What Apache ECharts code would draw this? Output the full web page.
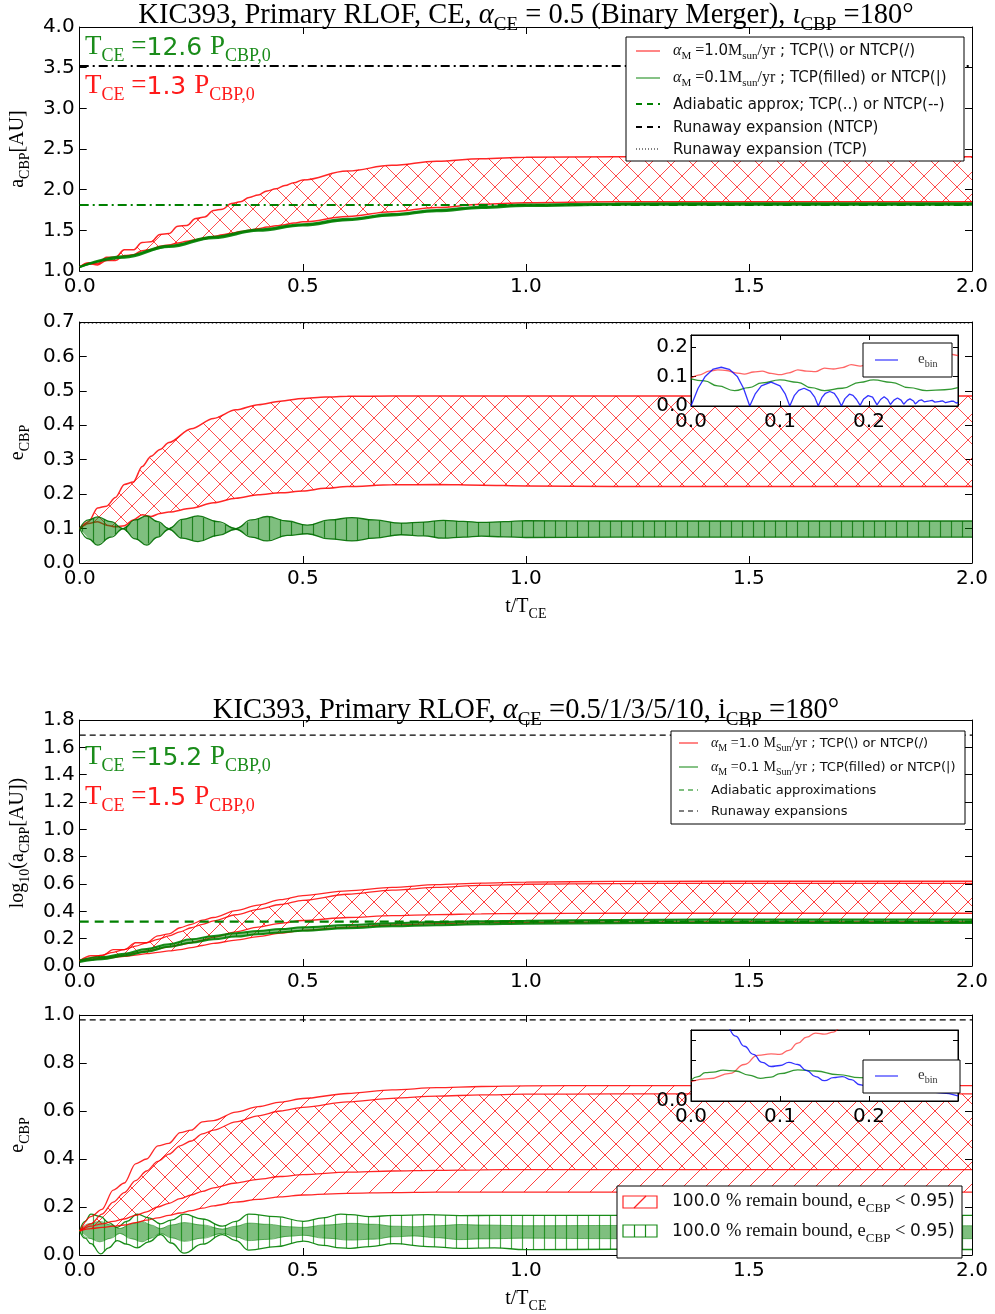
<!DOCTYPE html>
<html><head><meta charset="utf-8">
<script src="https://cdn.jsdelivr.net/npm/echarts/dist/echarts.min.js"></script>
<style>html,body{margin:0;padding:0;background:#fff}#c{width:995px;height:1314px}</style>
</head><body><div id="c"></div>
<script>
// ---------------- DATA ----------------
const xTicksMain = [0, 2, 0.5];           // min, max, interval of t/T_CE
const xTicksInset = [0, 0.3, 0.1];

// Panel 1: a_CBP [AU]
const t1 = [0,0.02,0.04,0.06,0.08,0.1,0.12,0.14,0.16,0.18,0.2,0.22,0.24,0.26,0.28,0.3,0.32,0.34,0.36,0.38,0.4,0.42,0.44,0.46,0.48,0.5,0.6,0.7,0.8,0.9,1.0,1.2,1.4,1.6,1.8,2.0];
const aRedUpper = [1.05,1.10,1.09,1.17,1.17,1.26,1.26,1.35,1.36,1.45,1.46,1.55,1.56,1.645,1.665,1.745,1.76,1.83,1.85,1.905,1.935,1.985,2.01,2.05,2.085,2.12,2.23,2.30,2.35,2.38,2.40,2.405,2.405,2.405,2.405,2.405];
const aRedLower = [1.05,1.09,1.075,1.13,1.13,1.19,1.2,1.25,1.265,1.305,1.32,1.345,1.365,1.385,1.405,1.425,1.445,1.465,1.485,1.50,1.52,1.54,1.555,1.57,1.59,1.605,1.67,1.73,1.78,1.82,1.84,1.85,1.85,1.85,1.85,1.85];
const tg1 = [0,0.1,0.2,0.3,0.4,0.5,0.6,0.7,0.8,0.9,1.0,1.2,1.5,2.0];
const aGreenUpper = [1.05,1.18,1.31,1.42,1.51,1.575,1.64,1.70,1.75,1.79,1.815,1.83,1.832,1.832];
const aGreenLower = [1.05,1.165,1.295,1.405,1.495,1.56,1.625,1.685,1.735,1.775,1.80,1.815,1.817,1.817];
const aRefLines = [3.52, 1.81];           // runaway expansion, adiabatic approx

// Panel 2: e_CBP
const t2 = [0,0.02,0.04,0.06,0.08,0.1,0.12,0.14,0.16,0.18,0.2,0.25,0.3,0.35,0.4,0.45,0.5,0.55,0.6,0.7,0.8,0.9,1.0,1.2,1.4,1.6,1.8,2.0];
const eRedUpper = [0.1,0.12,0.16,0.165,0.19,0.228,0.235,0.28,0.31,0.33,0.35,0.39,0.42,0.445,0.46,0.47,0.478,0.482,0.484,0.485,0.485,0.485,0.485,0.485,0.485,0.485,0.485,0.485];
const eRedLower = [0.1,0.115,0.12,0.11,0.105,0.108,0.125,0.14,0.135,0.144,0.148,0.159,0.175,0.188,0.198,0.204,0.209,0.217,0.222,0.227,0.228,0.226,0.224,0.222,0.222,0.222,0.222,0.222];
const tg2 = [0,0.02,0.04,0.07,0.097,0.125,0.15,0.175,0.2,0.23,0.265,0.31,0.35,0.385,0.42,0.465,0.51,0.56,0.61,0.66,0.72,0.77,0.815,0.86,0.9,0.95,1.0,1.2,1.5,2.0];
const eGreenUpper = [0.1,0.125,0.134,0.12,0.1,0.125,0.137,0.12,0.1,0.127,0.137,0.12,0.1,0.125,0.135,0.122,0.11,0.125,0.132,0.125,0.116,0.119,0.124,0.121,0.118,0.12,0.123,0.122,0.122,0.122];
const eGreenLower = [0.1,0.07,0.052,0.075,0.099,0.07,0.052,0.075,0.098,0.072,0.062,0.08,0.098,0.075,0.064,0.08,0.085,0.07,0.064,0.072,0.082,0.079,0.072,0.075,0.078,0.076,0.074,0.075,0.075,0.075];
const eRefLines = [0.698];

// Inset 1 (e vs t, zoom)
const ti1Bin = [0,0.008,0.016,0.025,0.034,0.043,0.052,0.059,0.066,0.072,0.079,0.09,0.1,0.106,0.111,0.116,0.121,0.127,0.134,0.139,0.143,0.147,0.151,0.156,0.161,0.165,0.169,0.173,0.178,0.182,0.186,0.19,0.194,0.199,0.204,0.209,0.213,0.217,0.221,0.224,0.228,0.232,0.236,0.239,0.243,0.246,0.25,0.252,0.256,0.259,0.262,0.264,0.268,0.271,0.274,0.276,0.28,0.283,0.286,0.288,0.292,0.295,0.298,0.3];
const i1Bin = [0,0.06,0.1,0.125,0.131,0.124,0.1,0.06,0,0.04,0.068,0.081,0.068,0.04,0,0.035,0.053,0.06,0.05,0.03,0,0.028,0.043,0.049,0.043,0.025,0,0.025,0.04,0.036,0.022,0.002,0.024,0.035,0.03,0.004,0.022,0.031,0.022,0.005,0.02,0.027,0.02,0.006,0.019,0.024,0.017,0.007,0.018,0.021,0.014,0.008,0.017,0.019,0.013,0.008,0.016,0.017,0.011,0.009,0.016,0.016,0.01,0.012];
const ti1Red = [0,0.01,0.02,0.03,0.04,0.05,0.06,0.07,0.08,0.09,0.1,0.11,0.12,0.13,0.14,0.15,0.16,0.17,0.18,0.19,0.2,0.21,0.22,0.23,0.24,0.25,0.26,0.27,0.28,0.29,0.3];
const i1Red = [0.094,0.105,0.118,0.122,0.12,0.112,0.108,0.115,0.118,0.11,0.106,0.112,0.122,0.118,0.116,0.128,0.125,0.13,0.14,0.135,0.142,0.152,0.147,0.155,0.163,0.158,0.165,0.172,0.168,0.175,0.17];
const ti1Green = [0,0.015,0.03,0.049,0.065,0.08,0.1,0.12,0.135,0.15,0.17,0.19,0.205,0.225,0.245,0.265,0.285,0.3];
const i1Green = [0.092,0.085,0.068,0.052,0.062,0.078,0.088,0.08,0.062,0.052,0.06,0.08,0.088,0.08,0.062,0.052,0.055,0.062];

// Panel 3: log10(a_CBP)
const t3 = [0,0.025,0.05,0.075,0.1,0.125,0.15,0.175,0.2,0.225,0.25,0.275,0.3,0.35,0.4,0.45,0.5,0.6,0.7,0.8,0.9,1.0,1.2,1.4,1.6,1.8,2.0];
const laNtcpUpper = [0.04,0.075,0.075,0.12,0.12,0.17,0.17,0.22,0.235,0.28,0.305,0.335,0.355,0.405,0.445,0.485,0.515,0.55,0.575,0.595,0.607,0.614,0.619,0.62,0.62,0.62,0.62];
const laNtcpLower = [0.04,0.045,0.055,0.062,0.07,0.08,0.09,0.1,0.11,0.12,0.135,0.15,0.165,0.19,0.215,0.24,0.26,0.285,0.3,0.31,0.316,0.319,0.321,0.322,0.322,0.322,0.322];
const laTcpUpper = [0.04,0.06,0.08,0.1,0.12,0.145,0.17,0.195,0.22,0.25,0.28,0.305,0.33,0.375,0.415,0.45,0.48,0.525,0.555,0.575,0.59,0.598,0.603,0.605,0.605,0.605,0.605];
const laTcpLower = [0.04,0.05,0.06,0.07,0.08,0.095,0.11,0.125,0.14,0.155,0.17,0.19,0.21,0.25,0.285,0.312,0.333,0.355,0.368,0.376,0.381,0.384,0.386,0.386,0.386,0.386,0.386];
const tg3 = [0,0.05,0.1,0.15,0.2,0.25,0.3,0.35,0.4,0.45,0.5,0.6,0.7,0.8,0.9,1.0,1.2,1.4,1.7,2.0];
const laGreenUpper = [0.04,0.065,0.09,0.125,0.16,0.195,0.22,0.24,0.256,0.27,0.283,0.30,0.313,0.322,0.328,0.332,0.337,0.34,0.34,0.34];
const laGreenLower = [0.03,0.05,0.075,0.105,0.14,0.17,0.195,0.215,0.232,0.246,0.258,0.277,0.29,0.299,0.305,0.309,0.313,0.315,0.315,0.315];
const laRefLines = [1.69, 0.325];

// Panel 4: e_CBP
const t4 = [0,0.025,0.05,0.075,0.1,0.125,0.15,0.175,0.2,0.225,0.25,0.275,0.3,0.35,0.4,0.45,0.5,0.6,0.7,0.8,0.9,1.0,1.2,1.4,1.6,1.8,2.0];
const e4NtcpUpper = [0.1,0.16,0.19,0.27,0.30,0.38,0.40,0.455,0.465,0.51,0.52,0.555,0.56,0.595,0.618,0.637,0.652,0.673,0.688,0.697,0.702,0.705,0.706,0.706,0.706,0.706,0.706];
const e4NtcpLower = [0.1,0.11,0.115,0.12,0.125,0.135,0.145,0.155,0.165,0.175,0.185,0.195,0.205,0.22,0.232,0.242,0.25,0.257,0.26,0.262,0.262,0.262,0.262,0.262,0.262,0.262,0.262];
const e4TcpUpper = [0.1,0.13,0.17,0.22,0.26,0.31,0.35,0.39,0.42,0.455,0.475,0.505,0.52,0.555,0.58,0.6,0.615,0.638,0.653,0.662,0.667,0.67,0.671,0.671,0.671,0.671,0.671];
const e4TcpLower = [0.1,0.12,0.13,0.14,0.15,0.165,0.18,0.2,0.215,0.235,0.25,0.265,0.28,0.3,0.315,0.327,0.335,0.345,0.35,0.353,0.355,0.356,0.356,0.356,0.356,0.356,0.356];
const tg4Out = [0,0.012,0.025,0.047,0.065,0.084,0.105,0.129,0.155,0.181,0.205,0.234,0.275,0.32,0.35,0.379,0.44,0.502,0.545,0.585,0.607,0.65,0.704,0.78,0.853,0.93,1.0,1.2,1.5,2.0];
const e4GreenOutUpper = [0.1,0.14,0.17,0.16,0.135,0.115,0.14,0.17,0.155,0.13,0.145,0.17,0.15,0.12,0.14,0.17,0.16,0.14,0.155,0.17,0.168,0.16,0.165,0.168,0.164,0.165,0.165,0.165,0.165,0.165];
const e4GreenOutLower = [0.1,0.07,0.047,0.005,0.03,0.06,0.045,0.03,0.055,0.085,0.05,0.008,0.045,0.085,0.06,0.02,0.035,0.058,0.04,0.03,0.028,0.035,0.047,0.035,0.028,0.03,0.022,0.024,0.023,0.023];
const tg4In = [0,0.02,0.045,0.07,0.09,0.115,0.14,0.16,0.181,0.205,0.234,0.275,0.32,0.35,0.379,0.42,0.47,0.5,0.55,0.607,0.66,0.704,0.75,0.8,0.853,0.9,1.0,1.2,1.5,2.0];
const e4GreenInUpper = [0.1,0.13,0.14,0.125,0.11,0.13,0.14,0.125,0.11,0.125,0.135,0.125,0.108,0.12,0.133,0.128,0.118,0.115,0.125,0.132,0.128,0.12,0.118,0.122,0.127,0.125,0.122,0.123,0.122,0.122];
const e4GreenInLower = [0.1,0.07,0.055,0.07,0.09,0.068,0.055,0.07,0.09,0.072,0.057,0.07,0.09,0.075,0.06,0.065,0.078,0.082,0.07,0.062,0.066,0.076,0.079,0.072,0.064,0.067,0.07,0.068,0.068,0.068];
const e4RefLines = [0.98];

// Inset 2
const ti2Bin = [0.04,0.05,0.06,0.07,0.08,0.09,0.1,0.11,0.12,0.13,0.14,0.15,0.16,0.17,0.18,0.19,0.2,0.22,0.24,0.26,0.28,0.3];
const i2Bin = [0.4,0.32,0.27,0.23,0.19,0.17,0.175,0.19,0.18,0.15,0.12,0.1,0.115,0.12,0.105,0.08,0.065,0.07,0.06,0.065,0.04,0.025];
const ti2Red = [0,0.02,0.044,0.06,0.075,0.09,0.1,0.11,0.12,0.13,0.14,0.15,0.16,0.17,0.18];
const i2Red = [0.095,0.11,0.136,0.18,0.225,0.232,0.23,0.25,0.285,0.315,0.335,0.33,0.34,0.37,0.4];
const ti2Green = [0,0.008,0.016,0.025,0.036,0.05,0.065,0.078,0.09,0.1,0.12,0.14,0.165,0.19,0.21,0.24,0.27,0.3];
const i2Green = [0.103,0.12,0.14,0.142,0.152,0.148,0.128,0.112,0.118,0.135,0.153,0.148,0.13,0.115,0.112,0.125,0.13,0.123];

// ---------------- STYLE ----------------
const SANS = 'DejaVu Sans', SERIF = 'Liberation Serif';
const RED = 'rgba(255,0,0,0.85)', GREEN = '#008000';

function hatch(kind, color, size, lw, bg) {
  const c = document.createElement('canvas');
  c.width = size; c.height = size;
  const g = c.getContext('2d');
  if (bg) { g.fillStyle = bg; g.fillRect(0, 0, size, size); }
  g.strokeStyle = color; g.lineWidth = lw; g.beginPath();
  if (kind.indexOf('/') >= 0) {
    g.moveTo(-2, size + 2); g.lineTo(size + 2, -2);
    g.moveTo(-2, 2); g.lineTo(2, -2);
    g.moveTo(size - 2, size + 2); g.lineTo(size + 2, size - 2);
  }
  if (kind.indexOf('\\') >= 0) {
    g.moveTo(-2, -2); g.lineTo(size + 2, size + 2);
    g.moveTo(size - 2, -2); g.lineTo(size + 2, 2);
    g.moveTo(-2, size - 2); g.lineTo(2, size + 2);
  }
  if (kind.indexOf('|') >= 0) { g.moveTo(size / 2, 0); g.lineTo(size / 2, size); }
  g.stroke();
  return { image: c, repeat: 'repeat' };
}
const patX = hatch('/\\', 'rgba(255,0,0,0.7)', 22, 1);
const patSlash = hatch('/', 'rgba(255,0,0,0.75)', 22, 1);
const patBack = hatch('\\', 'rgba(255,0,0,0.75)', 22, 1);
const patGreenFillV = hatch('|', 'rgba(0,110,0,0.75)', 11, 1.2, 'rgba(0,128,0,0.5)');
const patGreenV = hatch('|', 'rgba(0,128,0,0.7)', 11, 1.2);

const pairs = (t, v) => t.map((x, i) => [x, v[i]]);
function curve(g, t, v, color, w, o) {
  o = o || {};
  return { type: 'line', xAxisIndex: 2 * g, yAxisIndex: 2 * g, data: pairs(t, v), symbol: 'none',
    smooth: o.smooth == null ? 0.3 : o.smooth, smoothMonotone: 'x', lineStyle: { color: color, width: w },
    silent: true, z: o.z || 2, animation: false };
}
function bandFill(g, t, lo, hi, fill, z) {
  const rows = t.map((x, i) => [x, lo[i], hi[i]]);
  return { type: 'custom', xAxisIndex: 2 * g, yAxisIndex: 2 * g, data: rows, silent: true, z: z || 2, animation: false,
    encode: { x: 0, y: [1, 2] },
    renderItem: function (params, api) {
      if (params.dataIndex !== 0) return;
      const up = rows.map(r => api.coord([r[0], r[2]]));
      const dn = rows.map(r => api.coord([r[0], r[1]])).reverse();
      const cs = params.coordSys;
      return { type: 'polygon', shape: { points: up.concat(dn) }, style: { fill: fill, stroke: null },
        clipPath: { type: 'rect', shape: { x: cs.x, y: cs.y, width: cs.width, height: cs.height } } };
    } };
}
function band(g, t, lo, hi, o) {
  return [bandFill(g, t, lo, hi, o.fill, o.z),
    curve(g, t, lo, o.line, o.lw || 1.2, { smooth: o.smooth, z: o.z }),
    curve(g, t, hi, o.line, o.lw || 1.2, { smooth: o.smooth, z: o.z })];
}
function hline(g, v, xr, color, w, dash) {
  return { type: 'line', xAxisIndex: 2 * g, yAxisIndex: 2 * g, data: [[xr[0], v], [xr[1], v]], symbol: 'none',
    lineStyle: { color: color, width: w, type: dash }, silent: true, z: 3, animation: false };
}

// rich text helpers
function rich(F, color) {
  const b = { fill: color, color: color, verticalAlign: 'top' };
  return {
    m: Object.assign({ fontFamily: SERIF, fontSize: F, lineHeight: F, padding: [0, 0, 0, 0] }, b),
    i: Object.assign({ fontFamily: SERIF, fontStyle: 'italic', fontSize: F, lineHeight: F, padding: [0, 0, 0, 0] }, b),
    n: Object.assign({ fontFamily: SANS, fontSize: Math.round(F * 0.92), lineHeight: Math.round(F * 0.92), padding: [Math.round(F * 0.06), 0, 0, 0] }, b),
    s: Object.assign({ fontFamily: SERIF, fontSize: Math.round(F * 0.68), lineHeight: Math.round(F * 0.68), padding: [Math.round(F * 0.52), 0, 0, 0] }, b)
  };
}
function gtext(x, y, text, F, color, align, z) {
  return { type: 'text', x: x, y: y, z: z || 30, silent: true,
    style: { text: text, rich: rich(F, color), fill: color, font: F + 'px ' + SERIF,
      align: align || 'left', verticalAlign: 'middle', textAlign: align || 'left', textVerticalAlign: 'middle' } };
}
function gline(x1, y1, x2, y2, color, w, dash, z) {
  return { type: 'line', z: z || 31, silent: true, shape: { x1: x1, y1: y1, x2: x2, y2: y2 },
    style: { stroke: color, lineWidth: w, lineDash: dash || null } };
}
function grect(x, y, w, h, z) {
  return { type: 'rect', z: z || 29, silent: true, shape: { x: x, y: y, width: w, height: h },
    style: { fill: '#fff', stroke: '#000', lineWidth: 1 } };
}

// ---------------- GRIDS & AXES ----------------
const grids = [
  { left: 79, top: 27, width: 893, height: 244 },
  { left: 79, top: 322, width: 893, height: 241 },
  { left: 79, top: 720, width: 893, height: 246 },
  { left: 79, top: 1015, width: 893, height: 243 },
  { left: 691, top: 335, width: 267, height: 71, show: true, backgroundColor: '#fff', borderColor: '#000', borderWidth: 1, z: 5 },
  { left: 691, top: 1030, width: 267, height: 71, show: true, backgroundColor: '#fff', borderColor: '#000', borderWidth: 1, z: 5 }
];
const yRanges = [[1, 4, 0.5], [0, 0.7, 0.1], [0, 1.8, 0.2], [0, 1.0, 0.2], [0, 0.24, 0.1], [0, 0.35, 0.1]];
const yNames = ['{m|a}{s|CBP}{m|[AU]}', '{m|e}{s|CBP}', '{m|log}{s|10}{m|(a}{s|CBP}{m|[AU])}', '{m|e}{s|CBP}', '', ''];
const yNameGaps = [44, 38, 44, 38, 0, 0];
const xNames = ['', '{m|t/T}{s|CE}', '', '{m|t/T}{s|CE}', '', ''];

const xAxes = [], yAxes = [];
const lbl = { fontFamily: SANS, fontSize: 20, color: '#000' };
grids.forEach((gd, i) => {
  const inset = i >= 4;
  const xr = inset ? xTicksInset : xTicksMain;
  const z = inset ? 6 : 0;
  const axLine = { show: true, onZero: false, lineStyle: { color: '#000', width: 1 } };
  const tick = { show: true, inside: true, length: inset ? 5 : 7, lineStyle: { color: '#000', width: 1 } };
  const xFmt = inset ? (v => (v > 0.25 ? '' : v.toFixed(1))) : (v => v.toFixed(1));
  xAxes.push({ gridIndex: i, type: 'value', min: xr[0], max: xr[1], interval: xr[2], position: 'bottom', z: z,
    axisLine: axLine, axisTick: tick, splitLine: { show: false },
    axisLabel: Object.assign({ margin: 6, formatter: xFmt }, lbl),
    name: xNames[i], nameLocation: 'middle', nameGap: 34,
    nameTextStyle: { fontFamily: SERIF, fontSize: 20, color: '#000', rich: rich(20, '#000') } });
  xAxes.push({ gridIndex: i, type: 'value', min: xr[0], max: xr[1], interval: xr[2], position: 'top', z: z,
    axisLine: axLine, axisTick: tick, splitLine: { show: false }, axisLabel: { show: false } });
  const yr = yRanges[i];
  const yFmt = i === 5 ? (v => (v < 1e-6 ? '0.0' : '')) : (v => v.toFixed(1));
  yAxes.push({ gridIndex: i, type: 'value', min: yr[0], max: yr[1], interval: yr[2], position: 'left', z: z,
    axisLine: axLine, axisTick: tick, splitLine: { show: false },
    axisLabel: Object.assign({ margin: inset ? 3 : 5, formatter: yFmt, showMaxLabel: !inset }, lbl),
    name: yNames[i], nameLocation: 'middle', nameGap: yNameGaps[i],
    nameTextStyle: { fontFamily: SERIF, fontSize: 20, color: '#000', rich: rich(20, '#000') } });
  yAxes.push({ gridIndex: i, type: 'value', min: yr[0], max: yr[1], interval: yr[2], position: 'right', z: z,
    axisLine: axLine, axisTick: tick, splitLine: { show: false }, axisLabel: { show: false } });
});

// ---------------- SERIES ----------------
const M = [xTicksMain[0], xTicksMain[1]];
let series = [];
// panel 1
series = series.concat(band(0, t1, aRedLower, aRedUpper, { line: RED, lw: 1.5, fill: patX, smooth: 0.4 }));
series = series.concat(band(0, tg1, aGreenLower, aGreenUpper, { line: 'rgba(0,128,0,0.9)', lw: 2.2, fill: 'rgba(0,128,0,0.5)', smooth: 0.4 }));
series.push(hline(0, aRefLines[0], M, '#000', 2, [9, 4, 2, 4]));
series.push(hline(0, aRefLines[1], M, GREEN, 2, [9, 4, 2, 4]));
// panel 2
series = series.concat(band(1, t2, eRedLower, eRedUpper, { line: RED, lw: 1.5, fill: patX }));
series = series.concat(band(1, tg2, eGreenLower, eGreenUpper, { line: 'rgba(0,110,0,0.9)', lw: 1.3, fill: patGreenFillV, smooth: 0.45, z: 3 }));
series.push(hline(1, eRefLines[0], M, '#000', 1.5, [1.5, 2.5]));
// panel 3
series = series.concat(band(2, t3, laNtcpLower, laNtcpUpper, { line: RED, lw: 1.3, fill: patSlash }));
series = series.concat(band(2, t3, laTcpLower, laTcpUpper, { line: RED, lw: 1.3, fill: patBack }));
series = series.concat(band(2, tg3, laGreenLower, laGreenUpper, { line: 'rgba(0,128,0,0.9)', lw: 2, fill: patGreenFillV, smooth: 0.4, z: 3 }));
series.push(hline(2, laRefLines[0], M, '#000', 1.2, [6, 4]));
series.push(hline(2, laRefLines[1], M, GREEN, 2.2, [9, 6]));
// panel 4
series = series.concat(band(3, tg4In, e4GreenInLower, e4GreenInUpper, { line: 'rgba(0,128,0,0.5)', lw: 1, fill: 'rgba(0,128,0,0.5)', smooth: 0.45 }));
series = series.concat(band(3, tg4Out, e4GreenOutLower, e4GreenOutUpper, { line: 'rgba(0,128,0,0.9)', lw: 1.3, fill: patGreenV, smooth: 0.45 }));
series = series.concat(band(3, t4, e4NtcpLower, e4NtcpUpper, { line: RED, lw: 1.3, fill: patSlash }));
series = series.concat(band(3, t4, e4TcpLower, e4TcpUpper, { line: RED, lw: 1.3, fill: patBack }));
series.push(hline(3, e4RefLines[0], M, '#000', 1.2, [6, 4]));
// inset 1
series.push(curve(4, ti1Red, i1Red, 'rgba(255,0,0,0.6)', 1.3, { z: 7 }));
series.push(curve(4, ti1Green, i1Green, 'rgba(0,128,0,0.8)', 1.3, { z: 7, smooth: 0.5 }));
series.push(curve(4, ti1Bin, i1Bin, 'rgba(0,0,255,0.8)', 1.3, { z: 7, smooth: false }));
// inset 2
series.push(curve(5, ti2Red, i2Red, 'rgba(255,0,0,0.6)', 1.3, { z: 7, smooth: 0.5 }));
series.push(curve(5, ti2Green, i2Green, 'rgba(0,128,0,0.8)', 1.3, { z: 7, smooth: 0.5 }));
series.push(curve(5, ti2Bin, i2Bin, 'rgba(0,0,255,0.8)', 1.3, { z: 7, smooth: 0.5 }));

// ---------------- TEXT / LEGENDS ----------------
const graphic = [
  gtext(526, 15, '{m|KIC393, Primary RLOF, CE, }{i|α}{s|CE}{m| = 0.5 (Binary Merger), }{i|ι}{s|CBP}{m| =180°}', 28.5, '#000', 'center'),
  gtext(526, 710, '{m|KIC393, Primary RLOF, }{i|α}{s|CE}{m| =0.5/1/3/5/10, i}{s|CBP}{m| =180°}', 28.5, '#000', 'center'),
  gtext(85, 47, '{m|T}{s|CE}{m| =}{n|12.6 }{m|P}{s|CBP,0}', 27, '#1a8c1a'),
  gtext(85, 86, '{m|T}{s|CE}{m| =}{n|1.3 }{m|P}{s|CBP,0}', 27, '#ff1a1a'),
  gtext(85, 757, '{m|T}{s|CE}{m| =}{n|15.2 }{m|P}{s|CBP,0}', 27, '#1a8c1a'),
  gtext(85, 797, '{m|T}{s|CE}{m| =}{n|1.5 }{m|P}{s|CBP,0}', 27, '#ff1a1a'),
  // legend panel 1
  grect(626, 37, 338, 124),
  gline(636, 51, 660, 51, 'rgba(255,0,0,0.8)', 1.2),
  gtext(673, 51, '{i|α}{s|M}{m| =}{n|1.0}{m|M}{s|sun}{m|/yr}{n| ; TCP(\\) or NTCP(/)}', 16, '#111'),
  gline(636, 78, 660, 78, 'rgba(0,128,0,0.8)', 1.2),
  gtext(673, 78, '{i|α}{s|M}{m| =}{n|0.1}{m|M}{s|sun}{m|/yr}{n| ; TCP(filled) or NTCP(|)}', 16, '#111'),
  gline(636, 104, 660, 104, GREEN, 2, [6, 5]),
  gtext(673, 104, '{n|Adiabatic approx; TCP(..) or NTCP(--)}', 16, '#111'),
  gline(636, 127, 660, 127, '#000', 2, [6, 5]),
  gtext(673, 127, '{n|Runaway expansion (NTCP)}', 16, '#111'),
  gline(636, 149, 660, 149, '#000', 1.2, [1, 2]),
  gtext(673, 149, '{n|Runaway expansion (TCP)}', 16, '#111'),
  // legend panel 3
  grect(671, 731, 294, 93),
  gline(679, 743, 698, 743, 'rgba(255,0,0,0.8)', 1.2),
  gtext(711, 743, '{i|α}{s|M}{m| =}{n|1.0 }{m|M}{s|Sun}{m|/yr}{n| ; TCP(\\) or NTCP(/)}', 14, '#111'),
  gline(679, 767, 698, 767, 'rgba(0,128,0,0.8)', 1.2),
  gtext(711, 767, '{i|α}{s|M}{m| =}{n|0.1 }{m|M}{s|Sun}{m|/yr}{n| ; TCP(filled) or NTCP(|)}', 14, '#111'),
  gline(679, 790, 698, 790, GREEN, 1.2, [5, 4]),
  gtext(711, 790, '{n|Adiabatic approximations}', 14, '#111'),
  gline(679, 811, 698, 811, '#000', 1.2, [5, 4]),
  gtext(711, 811, '{n|Runaway expansions}', 14, '#111'),
  // legend panel 4
  grect(617, 1186, 345, 72),
  { type: 'rect', z: 31, silent: true, shape: { x: 623, y: 1196, width: 34, height: 12 }, style: { fill: 'none', stroke: 'rgba(255,0,0,0.85)', lineWidth: 1.2 } },
  gline(634, 1208, 646, 1196, 'rgba(255,0,0,0.85)', 1.2),
  gtext(672, 1201, '{n|100.0 }{m|% remain bound, e}{s|CBP}{m| < }{n|0.95)}', 18.5, '#111'),
  { type: 'rect', z: 31, silent: true, shape: { x: 623, y: 1225, width: 34, height: 12 }, style: { fill: 'none', stroke: 'rgba(0,128,0,0.9)', lineWidth: 1.2 } },
  gline(634.5, 1225, 634.5, 1237, 'rgba(0,128,0,0.9)', 1.2),
  gline(645.5, 1225, 645.5, 1237, 'rgba(0,128,0,0.9)', 1.2),
  gtext(672, 1231, '{n|100.0 }{m|% remain bound, e}{s|CBP}{m| < }{n|0.95)}', 18.5, '#111'),
  // inset legends
  grect(863, 343, 89, 34, 32),
  gline(875, 360, 898, 360, 'rgba(0,0,255,0.8)', 1.2, null, 33),
  gtext(918, 359, '{m|e}{s|bin}', 15, '#333', 'left', 33),
  grect(863, 1060, 97, 33, 32),
  gline(875, 1076, 898, 1076, 'rgba(0,0,255,0.8)', 1.2, null, 33),
  gtext(918, 1075, '{m|e}{s|bin}', 15, '#333', 'left', 33)
];

const chart = echarts.init(document.getElementById('c'), null, { renderer: 'canvas' });
chart.setOption({
  animation: false,
  backgroundColor: '#fff',
  grid: grids,
  xAxis: xAxes,
  yAxis: yAxes,
  series: series,
  graphic: graphic
});
</script>
</body></html>
